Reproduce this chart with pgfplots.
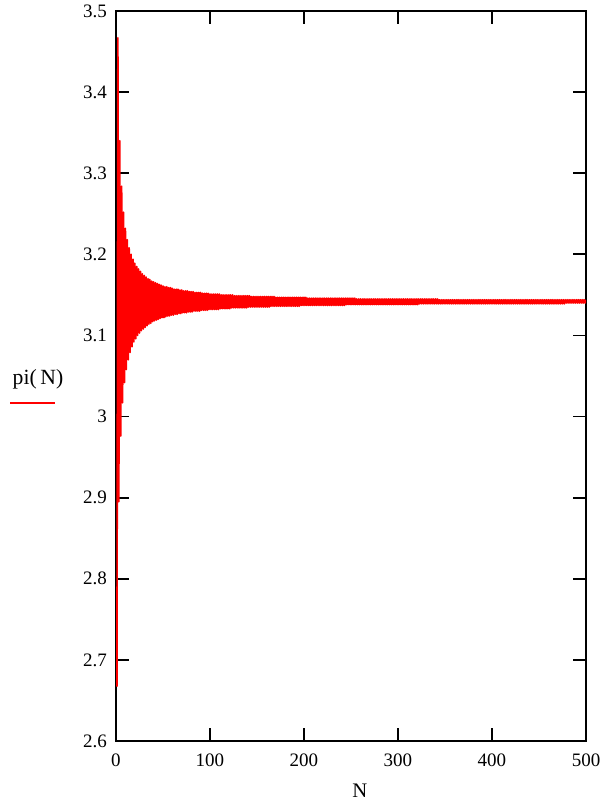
\documentclass[border=0pt]{standalone}
\usepackage{fontspec}
\setmainfont{Liberation Serif}
\usepackage{pgfplots}
\pgfplotsset{compat=1.18}
\begin{document}
\begin{tikzpicture}
\useasboundingbox (-69.6pt,-37.2pt) rectangle (294pt,444.6pt);
\begin{axis}[
  at={(0,0)}, anchor=south west,
  scale only axis, width=282pt, height=438pt,
  xmin=0, xmax=500, ymin=2.6, ymax=3.5,
  xtick={0,100,...,500},
  ytick={2.6,2.7,2.8,2.9,3,3.1,3.2,3.3,3.4,3.5},
  yticklabels={2.6,2.7,2.8,2.9,3,3.1,3.2,3.3,3.4,3.5},
  tick align=inside, major tick length=7.8pt,
  xtick pos=both, ytick pos=both,
  axis line style={line width=1pt},
  every tick/.style={black, line width=1pt},
  /pgf/number format/assume math mode=true,
  tick label style={font=\fontsize{11.4}{13}\selectfont},
  yticklabel style={xshift=-2pt},
  xticklabel style={yshift=-4pt},
  xlabel={N},
  xlabel style={font=\fontsize{12.4}{14}\selectfont, at={(axis description cs:0.519,-0.0685)}, anchor=center},
  ylabel={\begin{tabular}{@{}c@{}}pi(\,N)\\[-3pt]\hspace*{-6pt}\textcolor{red}{\rule{27pt}{1pt}}\end{tabular}},
  ylabel style={font=\fontsize{13}{15}\selectfont, rotate=-90, at={(axis description cs:-0.166,0.482)}, anchor=center},
  clip=true,
]
\addplot[red, line width=1pt, line join=round] coordinates {
(1,2.667) (2,3.467) (3,2.895) (4,3.340) (5,2.976) (6,3.284) (7,3.017) (8,3.252) (9,3.042) (10,3.232)
(11,3.058) (12,3.218) (13,3.070) (14,3.208) (15,3.079) (16,3.200) (17,3.086) (18,3.194) (19,3.092) (20,3.189)
(21,3.096) (22,3.185) (23,3.100) (24,3.182) (25,3.103) (26,3.179) (27,3.106) (28,3.176) (29,3.108) (30,3.174)
(31,3.110) (32,3.172) (33,3.112) (34,3.170) (35,3.114) (36,3.169) (37,3.115) (38,3.167) (39,3.117) (40,3.166)
(41,3.118) (42,3.165) (43,3.119) (44,3.164) (45,3.120) (46,3.163) (47,3.121) (48,3.162) (49,3.122) (50,3.161)
(51,3.122) (52,3.160) (53,3.123) (54,3.160) (55,3.124) (56,3.159) (57,3.124) (58,3.159) (59,3.125) (60,3.158)
(61,3.125) (62,3.157) (63,3.126) (64,3.157) (65,3.126) (66,3.157) (67,3.127) (68,3.156) (69,3.127) (70,3.156)
(71,3.128) (72,3.155) (73,3.128) (74,3.155) (75,3.128) (76,3.155) (77,3.129) (78,3.154) (79,3.129) (80,3.154)
(81,3.129) (82,3.154) (83,3.130) (84,3.153) (85,3.130) (86,3.153) (87,3.130) (88,3.153) (89,3.130) (90,3.153)
(91,3.131) (92,3.152) (93,3.131) (94,3.152) (95,3.131) (96,3.152) (97,3.131) (98,3.152) (99,3.132) (100,3.151)
(101,3.132) (102,3.151) (103,3.132) (104,3.151) (105,3.132) (106,3.151) (107,3.132) (108,3.151) (109,3.132) (110,3.151)
(111,3.133) (112,3.150) (113,3.133) (114,3.150) (115,3.133) (116,3.150) (117,3.133) (118,3.150) (119,3.133) (120,3.150)
(121,3.133) (122,3.150) (123,3.134) (124,3.150) (125,3.134) (126,3.149) (127,3.134) (128,3.149) (129,3.134) (130,3.149)
(131,3.134) (132,3.149) (133,3.134) (134,3.149) (135,3.134) (136,3.149) (137,3.134) (138,3.149) (139,3.134) (140,3.149)
(141,3.135) (142,3.149) (143,3.135) (144,3.148) (145,3.135) (146,3.148) (147,3.135) (148,3.148) (149,3.135) (150,3.148)
(151,3.135) (152,3.148) (153,3.135) (154,3.148) (155,3.135) (156,3.148) (157,3.135) (158,3.148) (159,3.135) (160,3.148)
(161,3.135) (162,3.148) (163,3.135) (164,3.148) (165,3.136) (166,3.148) (167,3.136) (168,3.148) (169,3.136) (170,3.147)
(171,3.136) (172,3.147) (173,3.136) (174,3.147) (175,3.136) (176,3.147) (177,3.136) (178,3.147) (179,3.136) (180,3.147)
(181,3.136) (182,3.147) (183,3.136) (184,3.147) (185,3.136) (186,3.147) (187,3.136) (188,3.147) (189,3.136) (190,3.147)
(191,3.136) (192,3.147) (193,3.136) (194,3.147) (195,3.136) (196,3.147) (197,3.137) (198,3.147) (199,3.137) (200,3.147)
(201,3.137) (202,3.147) (203,3.137) (204,3.146) (205,3.137) (206,3.146) (207,3.137) (208,3.146) (209,3.137) (210,3.146)
(211,3.137) (212,3.146) (213,3.137) (214,3.146) (215,3.137) (216,3.146) (217,3.137) (218,3.146) (219,3.137) (220,3.146)
(221,3.137) (222,3.146) (223,3.137) (224,3.146) (225,3.137) (226,3.146) (227,3.137) (228,3.146) (229,3.137) (230,3.146)
(231,3.137) (232,3.146) (233,3.137) (234,3.146) (235,3.137) (236,3.146) (237,3.137) (238,3.146) (239,3.137) (240,3.146)
(241,3.137) (242,3.146) (243,3.137) (244,3.146) (245,3.138) (246,3.146) (247,3.138) (248,3.146) (249,3.138) (250,3.146)
(251,3.138) (252,3.146) (253,3.138) (254,3.146) (255,3.138) (256,3.145) (257,3.138) (258,3.145) (259,3.138) (260,3.145)
(261,3.138) (262,3.145) (263,3.138) (264,3.145) (265,3.138) (266,3.145) (267,3.138) (268,3.145) (269,3.138) (270,3.145)
(271,3.138) (272,3.145) (273,3.138) (274,3.145) (275,3.138) (276,3.145) (277,3.138) (278,3.145) (279,3.138) (280,3.145)
(281,3.138) (282,3.145) (283,3.138) (284,3.145) (285,3.138) (286,3.145) (287,3.138) (288,3.145) (289,3.138) (290,3.145)
(291,3.138) (292,3.145) (293,3.138) (294,3.145) (295,3.138) (296,3.145) (297,3.138) (298,3.145) (299,3.138) (300,3.145)
(301,3.138) (302,3.145) (303,3.138) (304,3.145) (305,3.138) (306,3.145) (307,3.138) (308,3.145) (309,3.138) (310,3.145)
(311,3.138) (312,3.145) (313,3.138) (314,3.145) (315,3.138) (316,3.145) (317,3.138) (318,3.145) (319,3.138) (320,3.145)
(321,3.138) (322,3.145) (323,3.139) (324,3.145) (325,3.139) (326,3.145) (327,3.139) (328,3.145) (329,3.139) (330,3.145)
(331,3.139) (332,3.145) (333,3.139) (334,3.145) (335,3.139) (336,3.145) (337,3.139) (338,3.145) (339,3.139) (340,3.145)
(341,3.139) (342,3.145) (343,3.139) (344,3.144) (345,3.139) (346,3.144) (347,3.139) (348,3.144) (349,3.139) (350,3.144)
(351,3.139) (352,3.144) (353,3.139) (354,3.144) (355,3.139) (356,3.144) (357,3.139) (358,3.144) (359,3.139) (360,3.144)
(361,3.139) (362,3.144) (363,3.139) (364,3.144) (365,3.139) (366,3.144) (367,3.139) (368,3.144) (369,3.139) (370,3.144)
(371,3.139) (372,3.144) (373,3.139) (374,3.144) (375,3.139) (376,3.144) (377,3.139) (378,3.144) (379,3.139) (380,3.144)
(381,3.139) (382,3.144) (383,3.139) (384,3.144) (385,3.139) (386,3.144) (387,3.139) (388,3.144) (389,3.139) (390,3.144)
(391,3.139) (392,3.144) (393,3.139) (394,3.144) (395,3.139) (396,3.144) (397,3.139) (398,3.144) (399,3.139) (400,3.144)
(401,3.139) (402,3.144) (403,3.139) (404,3.144) (405,3.139) (406,3.144) (407,3.139) (408,3.144) (409,3.139) (410,3.144)
(411,3.139) (412,3.144) (413,3.139) (414,3.144) (415,3.139) (416,3.144) (417,3.139) (418,3.144) (419,3.139) (420,3.144)
(421,3.139) (422,3.144) (423,3.139) (424,3.144) (425,3.139) (426,3.144) (427,3.139) (428,3.144) (429,3.139) (430,3.144)
(431,3.139) (432,3.144) (433,3.139) (434,3.144) (435,3.139) (436,3.144) (437,3.139) (438,3.144) (439,3.139) (440,3.144)
(441,3.139) (442,3.144) (443,3.139) (444,3.144) (445,3.139) (446,3.144) (447,3.139) (448,3.144) (449,3.139) (450,3.144)
(451,3.139) (452,3.144) (453,3.139) (454,3.144) (455,3.139) (456,3.144) (457,3.139) (458,3.144) (459,3.139) (460,3.144)
(461,3.139) (462,3.144) (463,3.139) (464,3.144) (465,3.139) (466,3.144) (467,3.139) (468,3.144) (469,3.139) (470,3.144)
(471,3.139) (472,3.144) (473,3.139) (474,3.144) (475,3.139) (476,3.144) (477,3.139) (478,3.144) (479,3.140) (480,3.144)
(481,3.140) (482,3.144) (483,3.140) (484,3.144) (485,3.140) (486,3.144) (487,3.140) (488,3.144) (489,3.140) (490,3.144)
(491,3.140) (492,3.144) (493,3.140) (494,3.144) (495,3.140) (496,3.144) (497,3.140) (498,3.144) (499,3.140) (500,3.144)
};
\end{axis}
\end{tikzpicture}
\end{document}
